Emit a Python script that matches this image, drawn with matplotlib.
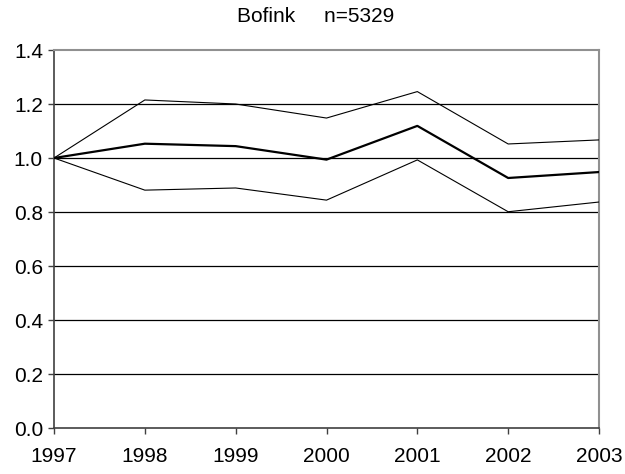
import matplotlib
matplotlib.use("Agg")
import matplotlib.pyplot as plt

plt.rcParams['font.family'] = ['Liberation Sans', 'DejaVu Sans']

# ── Data ─────────────────────────────────────────────────────
years = [1997, 1998, 1999, 2000, 2001, 2002, 2003]
index = [1.0, 1.053, 1.044, 0.994, 1.119, 0.926, 0.948]
upper = [1.0, 1.215, 1.200, 1.148, 1.246, 1.052, 1.067]
lower = [1.0, 0.881, 0.889, 0.844, 0.993, 0.801, 0.837]
yticks = [0.0, 0.2, 0.4, 0.6, 0.8, 1.0, 1.2, 1.4]

fig = plt.figure(figsize=(6.25, 4.74), dpi=100, facecolor='white')
ax = fig.add_axes([0.0864, 0.097, 0.872, 0.7975])

ax.set_xlim(years[0], years[-1])
ax.set_ylim(0, 1.4)
ax.set_yticks(yticks)
ax.set_yticklabels([f"{v:.1f}" for v in yticks])
ax.set_xticks(years)
ax.set_xticklabels([str(y) for y in years])

for v in yticks[1:-1]:
    ax.axhline(v, color='black', linewidth=0.9, zorder=1)

ax.plot(years, upper, color='black', linewidth=0.8, zorder=3)
ax.plot(years, lower, color='black', linewidth=0.8, zorder=3)
ax.plot(years, index, color='black', linewidth=1.6, zorder=4)

# ── Frame ────────────────────────────────────────────────────
ax.spines['top'].set_color('#909090')
ax.spines['right'].set_color('#909090')
ax.spines['top'].set_linewidth(1.5)
ax.spines['right'].set_linewidth(1.5)
ax.spines['left'].set_color('#404040')
ax.spines['bottom'].set_color('#404040')
ax.spines['left'].set_linewidth(1.2)
ax.spines['bottom'].set_linewidth(1.2)

ax.tick_params(axis='both', direction='out', length=4, width=1,
               color='#404040', labelsize=15, labelcolor='black')
ax.tick_params(axis='x', pad=10)
ax.tick_params(axis='y', pad=4)

fig.text(0.505, 0.965, "Bofink     n=5329", ha='center', va='center',
         fontsize=15, color='black')

fig.savefig("out.png", dpi=100, facecolor='white')
